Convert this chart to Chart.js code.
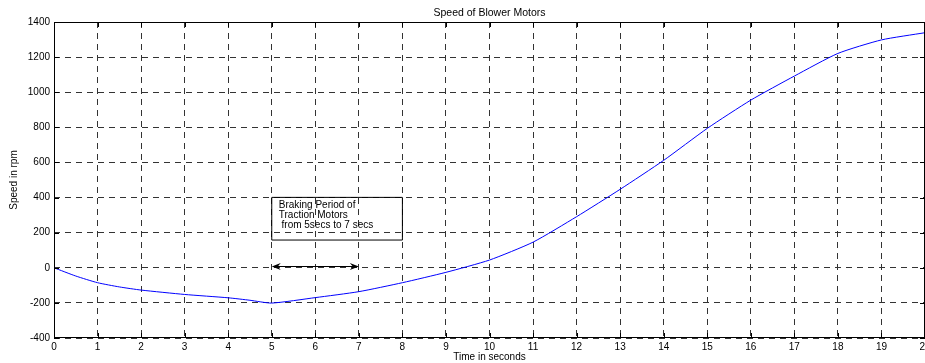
<!DOCTYPE html>
<html>
<head>
<meta charset="utf-8">
<script src="https://cdn.jsdelivr.net/npm/chart.js@4/dist/chart.umd.min.js"></script>
<style>
  html, body { margin: 0; padding: 0; background: #fff; }
  #wrap { width: 925px; height: 363px; }
</style>
</head>
<body>
<div id="wrap"><canvas id="speedChart"></canvas></div>
<script>
// Datos
const timeSecs = [0, 0.5, 1, 1.5, 2, 3, 4, 4.5, 5, 6, 7, 8, 9, 10, 11, 12, 13, 14, 15, 16, 17, 18, 19, 20];
const speedRpm = [0, -47, -85, -109, -127, -152, -171, -185, -201, -170, -136, -85, -26, 44, 146, 291, 447, 612, 794, 955, 1092, 1221, 1298, 1339];
const xTicks = [0, 1, 2, 3, 4, 5, 6, 7, 8, 9, 10, 11, 12, 13, 14, 15, 16, 17, 18, 19, 20];
const yTicks = [-400, -200, 0, 200, 400, 600, 800, 1000, 1200, 1400];
const noteLines = ['Braking Period of', 'Traction Motors', ' from 5secs to 7 secs'];
const noteBox = { x0: 5, x1: 8, y0: 158, y1: 401 };
const brakeArrow = { x0: 5, x1: 7, y: 10 };

const font = 'Arial, "Liberation Sans", Helvetica, sans-serif';

// Marco, marcas interiores y anotacion
const matlabFrame = {
    id: 'matlabFrame',
    afterDraw(chart) {
        const { ctx, chartArea: a, scales: { x, y } } = chart;
        ctx.save();
        ctx.strokeStyle = '#000';
        ctx.lineWidth = 1;
        ctx.setLineDash([]);
        ctx.strokeRect(a.left + 0.5, a.top + 0.5, a.right - a.left - 1, a.bottom - a.top - 1);
        ctx.beginPath();
        xTicks.forEach(t => {
            const px = Math.round(x.getPixelForValue(t)) + 0.5;
            ctx.moveTo(px, a.bottom); ctx.lineTo(px, a.bottom - 5);
            ctx.moveTo(px, a.top); ctx.lineTo(px, a.top + 5);
        });
        yTicks.forEach(t => {
            const py = Math.round(y.getPixelForValue(t)) + 0.5;
            ctx.moveTo(a.left, py); ctx.lineTo(a.left + 5, py);
            ctx.moveTo(a.right, py); ctx.lineTo(a.right - 5, py);
        });
        ctx.stroke();

        // caja del texto
        const bx0 = x.getPixelForValue(noteBox.x0), bx1 = x.getPixelForValue(noteBox.x1);
        const by0 = y.getPixelForValue(noteBox.y1), by1 = y.getPixelForValue(noteBox.y0);
        ctx.beginPath();
        ctx.moveTo(bx0, by0); ctx.lineTo(bx1, by0); ctx.lineTo(bx1, by1); ctx.lineTo(bx0, by1); ctx.closePath();
        ctx.stroke();
        ctx.fillStyle = '#000';
        ctx.font = '10px ' + font;
        ctx.textBaseline = 'middle';
        noteLines.forEach((line, i) => ctx.fillText(line, bx0 + 7, by0 + 8 + i * 9.7));

        // flecha doble
        const ax0 = x.getPixelForValue(brakeArrow.x0), ax1 = x.getPixelForValue(brakeArrow.x1);
        const ay = Math.round(y.getPixelForValue(brakeArrow.y)) + 0.5;
        ctx.lineWidth = 1.2;
        ctx.beginPath();
        ctx.moveTo(ax0 + 4, ay); ctx.lineTo(ax1 - 4, ay);
        ctx.stroke();
        ctx.beginPath();
        ctx.moveTo(ax0, ay); ctx.lineTo(ax0 + 9, ay - 3.5); ctx.lineTo(ax0 + 6, ay); ctx.lineTo(ax0 + 9, ay + 3.5); ctx.closePath();
        ctx.moveTo(ax1, ay); ctx.lineTo(ax1 - 9, ay - 3.5); ctx.lineTo(ax1 - 6, ay); ctx.lineTo(ax1 - 9, ay + 3.5); ctx.closePath();
        ctx.fill();
        ctx.restore();
    }
};

const ctx = document.getElementById('speedChart').getContext('2d');
new Chart(ctx, {
    type: 'line',
    data: {
        datasets: [{
            label: 'Speed',
            data: timeSecs.map((t, i) => ({ x: t, y: speedRpm[i] })),
            borderColor: '#0000ff',
            borderWidth: 1,
            pointRadius: 0,
            tension: 0.2,
            fill: false
        }]
    },
    options: {
        responsive: true,
        maintainAspectRatio: false,
        animation: false,
        layout: { padding: 0 },
        plugins: {
            legend: { display: false },
            tooltip: { enabled: false },
            title: {
                display: true,
                text: 'Speed of Blower Motors',
                fullSize: false,
                color: '#000',
                font: { family: font, size: 10.5, weight: 'normal' },
                padding: { top: 6.4, bottom: 3 }
            }
        },
        scales: {
            x: {
                type: 'linear',
                min: 0,
                max: 20,
                afterBuildTicks: s => { s.ticks = xTicks.map(v => ({ value: v })); },
                afterFit: s => { s.height = 25; s.paddingRight = 0; s.paddingLeft = 0; },
                border: { display: false, dash: [6, 5] },
                grid: { color: '#333', lineWidth: 1, tickLength: 0, drawTicks: false },
                ticks: { color: '#000', font: { family: font, size: 10 }, padding: 3, maxRotation: 0, autoSkip: false, callback: v => String(v) },
                title: { display: true, text: 'Time in seconds', color: '#000', font: { family: font, size: 10 }, padding: { top: 0, bottom: 0 } }
            },
            y: {
                min: -400,
                max: 1400,
                afterBuildTicks: s => { s.ticks = yTicks.map(v => ({ value: v })); },
                afterFit: s => { s.width = 54; },
                border: { display: false, dash: [6, 5] },
                grid: { color: '#333', lineWidth: 1, tickLength: 0, drawTicks: false },
                ticks: { color: '#000', font: { family: font, size: 10 }, padding: 4, autoSkip: false, callback: v => String(v) },
                title: { display: true, text: 'Speed in rpm', color: '#000', font: { family: font, size: 10 }, padding: { top: 8, bottom: 0 } }
            }
        }
    },
    plugins: [matlabFrame]
});
</script>
</body>
</html>
